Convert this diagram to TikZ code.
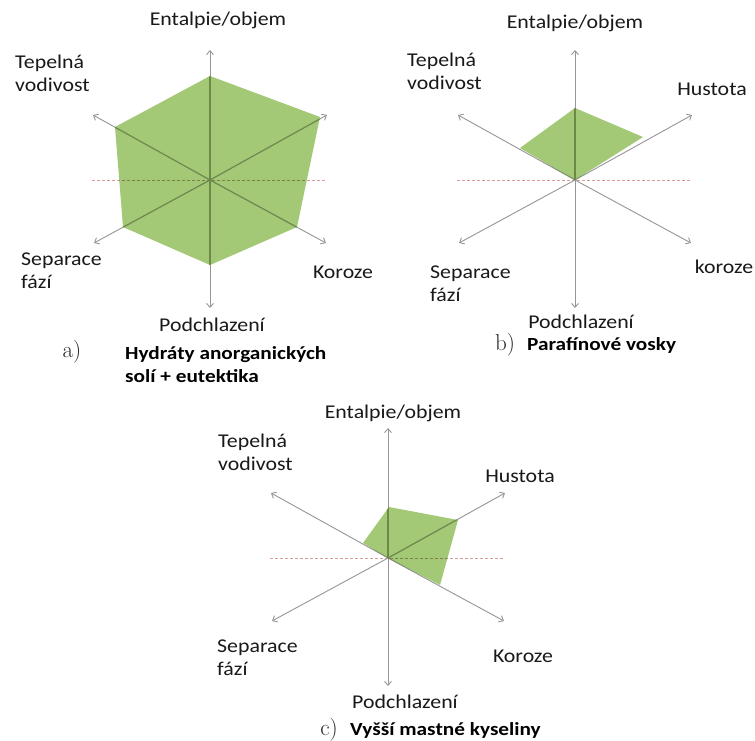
\documentclass[tikz,border=0pt]{standalone}
\usepackage{fontspec}
\usetikzlibrary{arrows.meta}

% Fonts: axis captions and chart titles in Carlito, slightly widened
\newfontfamily\labelfont{Carlito}[FakeStretch=1.12]
\newfontfamily\titlefont{Carlito}[FakeStretch=1.15]

\definecolor{areagreen}{RGB}{163,200,118}
\definecolor{axisgray}{RGB}{150,150,150}
\definecolor{axisolive}{RGB}{108,138,70}
\definecolor{dashpink}{RGB}{215,158,152}
\definecolor{dasholive}{RGB}{126,128,72}
\definecolor{textdark}{RGB}{25,25,25}

\tikzset{
  axis/.style={draw=axisgray, line width=0.9pt, -{Straight Barb[length=4pt,width=7pt]}},
  inaxis/.style={draw=axisolive, line width=1.1pt},
  midline/.style={draw=dashpink, line width=0.9pt, dash pattern=on 3pt off 2pt},
  inmidline/.style={draw=dasholive, line width=1pt, dash pattern=on 3pt off 2pt},
  lbl/.style={font=\labelfont\fontsize{19.5}{23}\selectfont, inner sep=0pt,
              align=left, text=textdark},
  ttl/.style={font=\titlefont\bfseries\fontsize{18.5}{23}\selectfont, inner sep=0pt,
              align=left, text=black},
  tag/.style={font=\fontsize{23}{25}\selectfont, inner sep=0pt, text=black!85},
  % six-armed star of axes with a dashed horizontal reference line
  pics/radar/.style={code={
    \coordinate (-o)  at (0,0);
    \coordinate (-n)  at (0,-130);
    \coordinate (-s)  at (0,128);
    \coordinate (-nw) at (-117,-65);
    \coordinate (-ne) at (117,-65);
    \coordinate (-sw) at (-116,63);
    \coordinate (-se) at (116,63);
    \coordinate (-w)  at (-118,0);
    \coordinate (-e)  at (116,0);
  }},
  areaA/.style={insert path={(210,76) -- (320,117) -- (297,227) -- (210,265)
                              -- (123,227) -- (115,127) -- cycle}},
  areaB/.style={insert path={(575,180) -- (520,148) -- (575,108) -- (643,137) -- cycle}},
  areaC/.style={insert path={(388,558) -- (363,543) -- (389,507) -- (458,520)
                              -- (440,585) -- cycle}},
}

\begin{document}
\begin{tikzpicture}[x=1pt, y=-1pt]
  \fill[white] (0,0) rectangle (755,740);
  \useasboundingbox (0,0) rectangle (755,740);

  \pic (a) at (210,180) {radar};
  \pic (b) at (575,180) {radar};
  \pic (c) at (388,558) {radar};

  % filled areas
  \fill[areagreen, areaA];
  \fill[areagreen, areaB];
  \fill[areagreen, areaC];

  % axes and reference lines
  \foreach \p in {a,b,c} {
    \draw[midline] (\p-w) -- (\p-e);
    \foreach \d in {n,s,nw,ne,sw,se}
      \draw[axis] (\p-o) -- (\p-\d);
  }

  % axes seen through the filled areas
  \begin{scope}
    \clip[areaA];
    \draw[inmidline] (a-w) -- (a-e);
    \foreach \d in {n,s,nw,ne,sw,se} \draw[inaxis] (a-o) -- (a-\d);
  \end{scope}
  \begin{scope}
    \clip[areaB];
    \draw[inmidline] (b-w) -- (b-e);
    \foreach \d in {n,s,nw,ne,sw,se} \draw[inaxis] (b-o) -- (b-\d);
  \end{scope}
  \begin{scope}
    \clip[areaC];
    \draw[inmidline] (c-w) -- (c-e);
    \foreach \d in {n,s,nw,ne,sw,se} \draw[inaxis] (c-o) -- (c-\d);
  \end{scope}

  % chart a
  \node[lbl] (a-ent) at (218,20) {Entalpie/objem};
  \node[lbl, anchor=west] (a-tep) at (15,73.5) {Tepelná\\vodivost};
  \node[lbl, anchor=west] (a-sep) at (21,270.5) {Separace\\fází};
  \node[lbl] (a-kor) at (343,272) {Koroze};
  \node[lbl] (a-pod) at (212,325) {Podchlazení};
  \node[tag] (a-tag) at (72,352) {a)};
  \node[ttl, anchor=west] (a-ttl) at (125,364.5) {Hydráty anorganických\\solí + eutektika};

  % chart b
  \node[lbl] (b-ent) at (575,23) {Entalpie/objem};
  \node[lbl, anchor=west] (b-tep) at (407,71.5) {Tepelná\\vodivost};
  \node[lbl] (b-hus) at (712,89) {Hustota};
  \node[lbl, anchor=west] (b-sep) at (430,283.5) {Separace\\fází};
  \node[lbl] (b-kor) at (724,267) {koroze};
  \node[lbl] (b-pod) at (581,322) {Podchlazení};
  \node[tag] (b-tag) at (505,345) {b)};
  \node[ttl, anchor=west] (b-ttl) at (527,345) {Parafínové vosky};

  % chart c
  \node[lbl] (c-ent) at (393,413) {Entalpie/objem};
  \node[lbl, anchor=west] (c-tep) at (218,452.5) {Tepelná\\vodivost};
  \node[lbl] (c-hus) at (520,476) {Hustota};
  \node[lbl, anchor=west] (c-sep) at (217,658) {Separace\\fází};
  \node[lbl] (c-kor) at (523,656) {Koroze};
  \node[lbl] (c-pod) at (405,702) {Podchlazení};
  \node[tag] (c-tag) at (329,730) {c)};
  \node[ttl, anchor=west] (c-ttl) at (350,730) {Vyšší mastné kyseliny};
\end{tikzpicture}
\end{document}
